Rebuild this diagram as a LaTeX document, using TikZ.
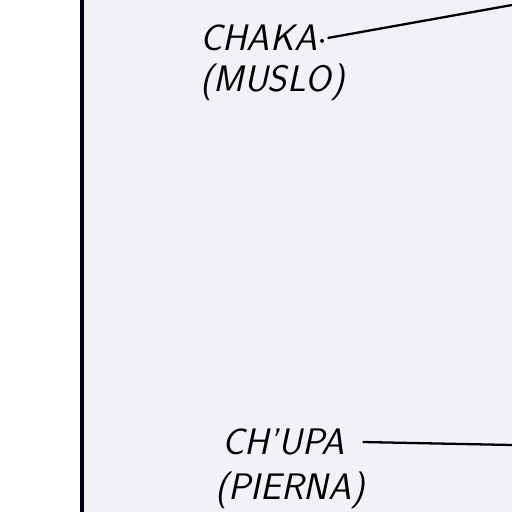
\documentclass[tikz,border=0pt]{standalone}
\usepackage{tikz}
\usetikzlibrary{positioning}

\definecolor{panel}{RGB}{243,240,246}
\tikzset{
  label/.style={anchor=west, inner sep=0pt, font=\sffamily\itshape\fontsize{21}{24}\selectfont},
  leader/.style={line width=1.3pt, black}
}

\begin{document}
\begin{tikzpicture}[x=0.02cm,y=-0.02cm]
            \useasboundingbox (0,0) rectangle (512,512);
            \fill[white] (0,0) rectangle (82,512);
            \fill[panel] (82,0) rectangle (512,512);
            \draw[line width=1.8pt, black!90!blue] (82,0)--(82,512);
            \node[label] (chaka) at (200,38) {CHAKA$\cdot$};
            \node[label] (muslo) at (200,82) {(MUSLO)};
            \node[label] (chupa) at (222,442) {CH'UPA};
            \node[label] (pierna) at (215,490) {(PIERNA)};
            \coordinate (thigh) at (512,5);
            \coordinate (leg) at (512,445);
            \draw[leader] ([xshift=0pt]chaka.east)--(thigh);
            \draw[leader] ([xshift=10pt]chupa.east)--(leg);
        \end{tikzpicture}
\end{document}
